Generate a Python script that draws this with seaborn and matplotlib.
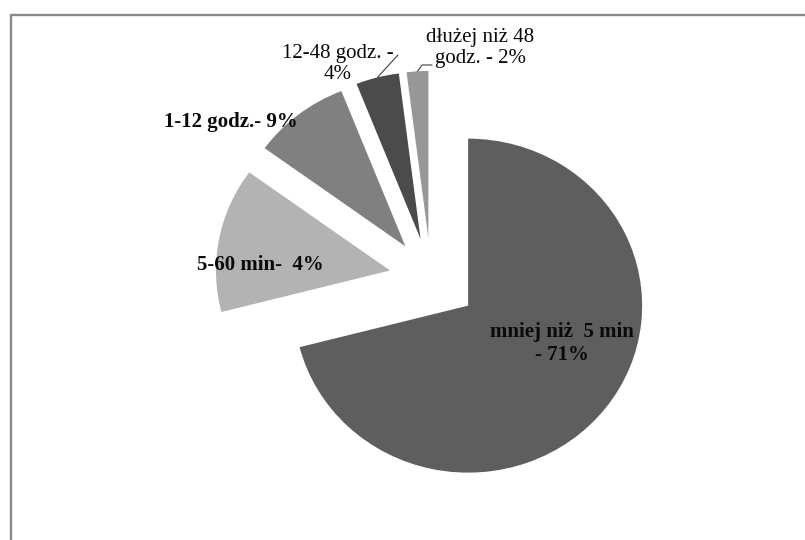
import numpy as np
import matplotlib
matplotlib.use("Agg")
import matplotlib.pyplot as plt
import seaborn as sns
from matplotlib.lines import Line2D

# data (slice sizes) and the labels as printed
categories = ["mniej niż 5 min", "5-60 min", "1-12 godz.", "12-48 godz.", "dłużej niż 48 godz."]
shares = [71, 14, 9, 4, 2]
label_texts = ["mniej niż  5 min\n- 71%", "5-60 min-  4%", "1-12 godz.- 9%",
               "12-48 godz. -\n4%", "dłużej niż 48\ngodz. - 2%"]
colors = ["#5e5e5e", "#b3b3b3", "#808080", "#4b4b4b", "#979797"]

sns.set_theme(style="white")
plt.rcParams['font.family'] = ['Liberation Serif', 'DejaVu Serif']

W, H = 805, 540
fig = plt.figure(figsize=(W / 100, H / 100), dpi=100)
ax = fig.add_axes([0, 0, 1, 1])

wedges, _ = ax.pie(shares, colors=colors, startangle=90, counterclock=False,
                   explode=[0.27, 0.24, 0.24, 0.24, 0.24],
                   wedgeprops=dict(linewidth=0, antialiased=True))
ax.set_aspect('auto')
# pie centre at (431, 278) px, radius ~174 px wide, ~167 px tall
ax.set_xlim(-431 / 174, (W - 431) / 174)
ax.set_ylim(-(H - 278) / 167, 278 / 167)
ax.axis('off')

# frame (left + top only, like the cropped original)
frame_c = "#888888"
fig.add_artist(Line2D([11 / W, 11 / W], [0, 1 - 15 / H], transform=fig.transFigure, color=frame_c, lw=1.7))
fig.add_artist(Line2D([11 / W, 1], [1 - 15 / H, 1 - 15 / H], transform=fig.transFigure, color=frame_c, lw=1.7))

fs = 15
# labels (figure fraction positions)
label_pos = [(562 / W, 1 - 343 / H), (260 / W, 1 - 265 / H), (231 / W, 1 - 122 / H),
             (338 / W, 1 - 64 / H), (480 / W, 1 - 48 / H)]
bold = [True, True, True, False, False]
for txt, (x, y), b in zip(label_texts, label_pos, bold):
    fig.text(x, y, txt, ha='center', va='center', fontsize=fs,
             fontweight='bold' if b else 'normal', linespacing=1.2, color="#0a0a0a")


def edge_point(w):
    mid = np.deg2rad((w.theta1 + w.theta2) / 2)
    cx, cy = w.center
    px, py = ax.transData.transform((cx + w.r * np.cos(mid), cy + w.r * np.sin(mid)))
    return px / W, py / H


# leader lines for the two small outer labels
sx, sy = edge_point(wedges[3])
fig.add_artist(Line2D([sx, 398 / W], [sy, 1 - 55 / H], transform=fig.transFigure, color="#404040", lw=0.8))
sx, sy = edge_point(wedges[4])
fig.add_artist(Line2D([sx, 422 / W, 432 / W], [sy, 1 - 65 / H, 1 - 65 / H],
                      transform=fig.transFigure, color="#404040", lw=0.8))

fig.savefig("out.png", dpi=100)
